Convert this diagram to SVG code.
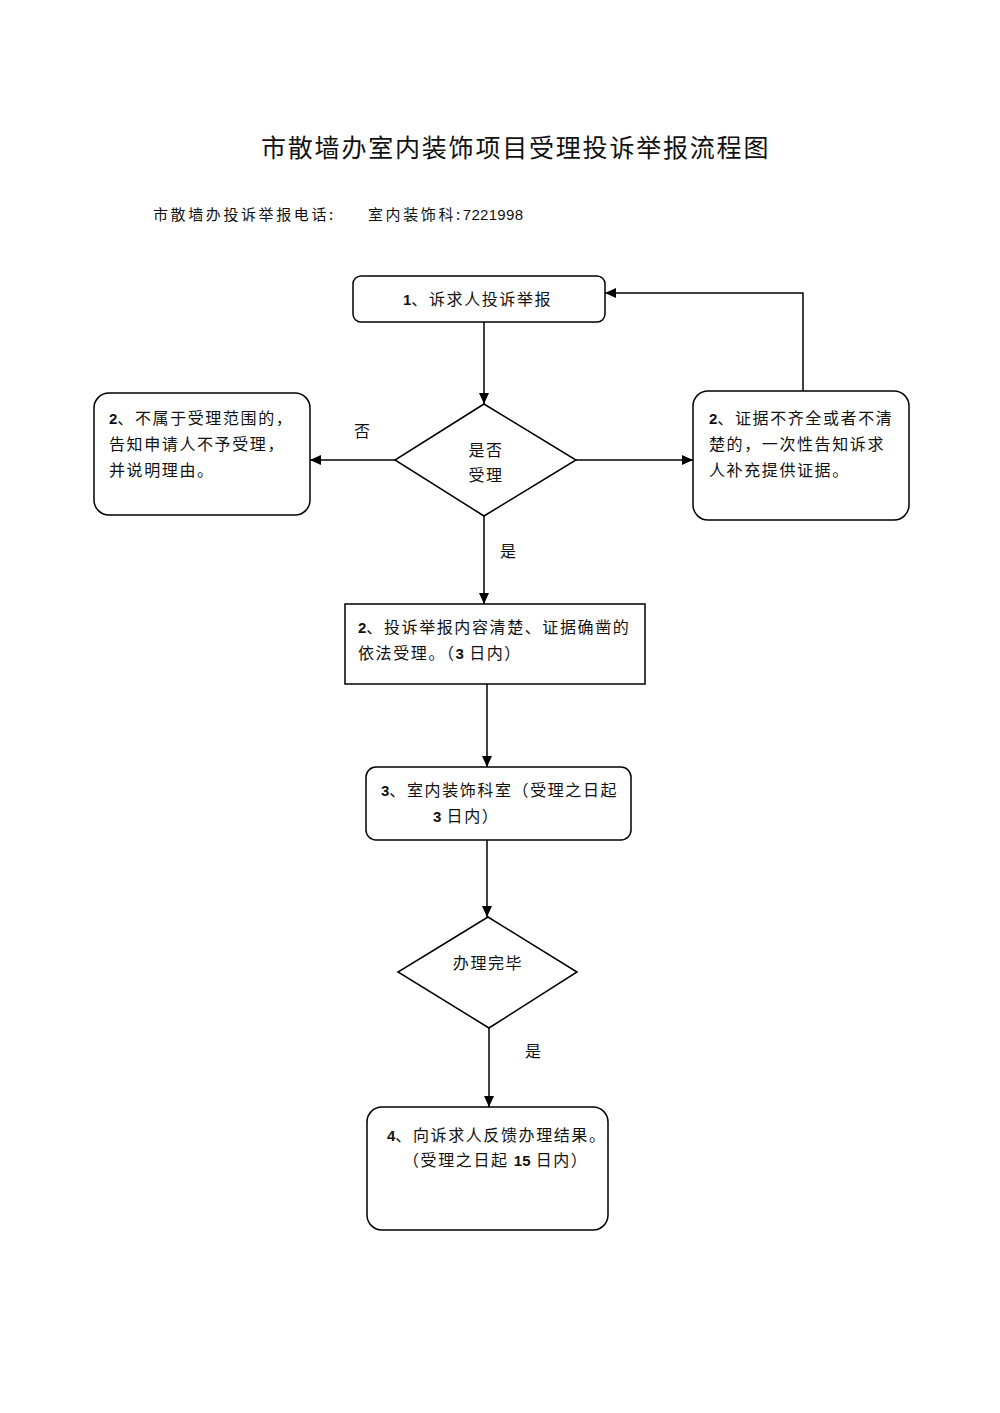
<svg xmlns="http://www.w3.org/2000/svg" width="1000" height="1413" viewBox="0 0 1000 1413">
<style>
  .bg { fill: #ffffff; }
  .box { fill: #ffffff; stroke: #000000; stroke-width: 1.5; }
  .conn { fill: none; stroke: #000000; stroke-width: 1.5; }
  .t { font-family: "Noto Sans CJK SC", "Noto Sans", sans-serif; font-size: 16px; fill: #111111; letter-spacing: 1.6px; }
  .num { font-family: "Liberation Sans", "Noto Sans", sans-serif; font-weight: bold; font-size: 15px; letter-spacing: 0; }
  .title { font-family: "Noto Sans CJK SC", "Noto Sans", sans-serif; font-size: 25px; fill: #111111; letter-spacing: 1.8px; }
  .sub { font-family: "Noto Sans CJK SC", "Noto Sans", sans-serif; font-size: 15px; fill: #111111; letter-spacing: 2.6px; }
  .lbl { font-family: "Noto Sans CJK SC", "Noto Sans", sans-serif; font-size: 16px; fill: #111111; }
</style>
<defs>
  <marker id="arrow" markerUnits="userSpaceOnUse" markerWidth="12" markerHeight="10" refX="11" refY="5" orient="auto">
    <path d="M0,0 L11,5 L0,10 Z" fill="#000000"/>
  </marker>
</defs>
<rect class="bg" x="0" y="0" width="1000" height="1413"/>

<g id="title">
  <text class="title" x="261" y="157">市散墙办室内装饰项目受理投诉举报流程图</text>
  <text class="sub" x="153" y="220">市散墙办投诉举报电话:</text>
  <text class="sub" x="368" y="220">室内装饰科:<tspan font-family="Liberation Sans, sans-serif" letter-spacing="0.3">7221998</tspan></text>
</g>

<g id="connectors">
  <path class="conn" d="M484,322 V404" marker-end="url(#arrow)"/>
  <path class="conn" d="M395,460 H310" marker-end="url(#arrow)"/>
  <path class="conn" d="M576,460 H693" marker-end="url(#arrow)"/>
  <path class="conn" d="M803,391 V293 H605" marker-end="url(#arrow)"/>
  <path class="conn" d="M484,516 V604" marker-end="url(#arrow)"/>
  <path class="conn" d="M487,684 V767" marker-end="url(#arrow)"/>
  <path class="conn" d="M487,840 V917" marker-end="url(#arrow)"/>
  <path class="conn" d="M489,1028 V1107" marker-end="url(#arrow)"/>
  <text class="lbl" x="354" y="437" font-size="14">否</text>
  <text class="lbl" x="500" y="557">是</text>
  <text class="lbl" x="525" y="1057">是</text>
</g>

<g id="node1">
  <rect class="box" x="353" y="276" width="252" height="46" rx="8"/>
  <text class="t" x="403" y="305"><tspan class="num">1</tspan>、诉求人投诉举报</text>
</g>

<g id="decision1">
  <polygon class="box" points="484,404 576,460 484,516 395,460"/>
  <text class="t" x="486" y="456" text-anchor="middle" letter-spacing="1">是否</text>
  <text class="t" x="486" y="481" text-anchor="middle" letter-spacing="1">受理</text>
</g>

<g id="node-reject">
  <rect class="box" x="94" y="393" width="216" height="122" rx="15"/>
  <text class="t" x="109" y="424"><tspan class="num">2</tspan>、不属于受理范围的，</text>
  <text class="t" x="109" y="450">告知申请人不予受理，</text>
  <text class="t" x="109" y="476">并说明理由。</text>
</g>

<g id="node-supplement">
  <rect class="box" x="693" y="391" width="216" height="129" rx="15"/>
  <text class="t" x="709" y="424"><tspan class="num">2</tspan>、证据不齐全或者不清</text>
  <text class="t" x="709" y="450">楚的，一次性告知诉求</text>
  <text class="t" x="709" y="476">人补充提供证据。</text>
</g>

<g id="node-accept">
  <rect class="box" x="345" y="604" width="300" height="80"/>
  <text class="t" x="358" y="633"><tspan class="num">2</tspan>、投诉举报内容清楚、证据确凿的</text>
  <text class="t" x="358" y="659">依法受理。（<tspan class="num">3</tspan> 日内）</text>
</g>

<g id="node-office">
  <rect class="box" x="366" y="767" width="265" height="73" rx="10"/>
  <text class="t" x="381" y="796"><tspan class="num">3</tspan>、室内装饰科室（受理之日起</text>
  <text class="t" x="433" y="822"><tspan class="num">3</tspan> 日内）</text>
</g>

<g id="decision2">
  <polygon class="box" points="488,917 577,972 489,1028 398,972"/>
  <text class="t" x="488" y="969" text-anchor="middle" letter-spacing="1">办理完毕</text>
</g>

<g id="node-feedback">
  <rect class="box" x="367" y="1107" width="241" height="123" rx="15"/>
  <text class="t" x="387" y="1141"><tspan class="num">4</tspan>、向诉求人反馈办理结果。</text>
  <text class="t" x="403" y="1166">（受理之日起 <tspan class="num">15</tspan> 日内）</text>
</g>
</svg>
